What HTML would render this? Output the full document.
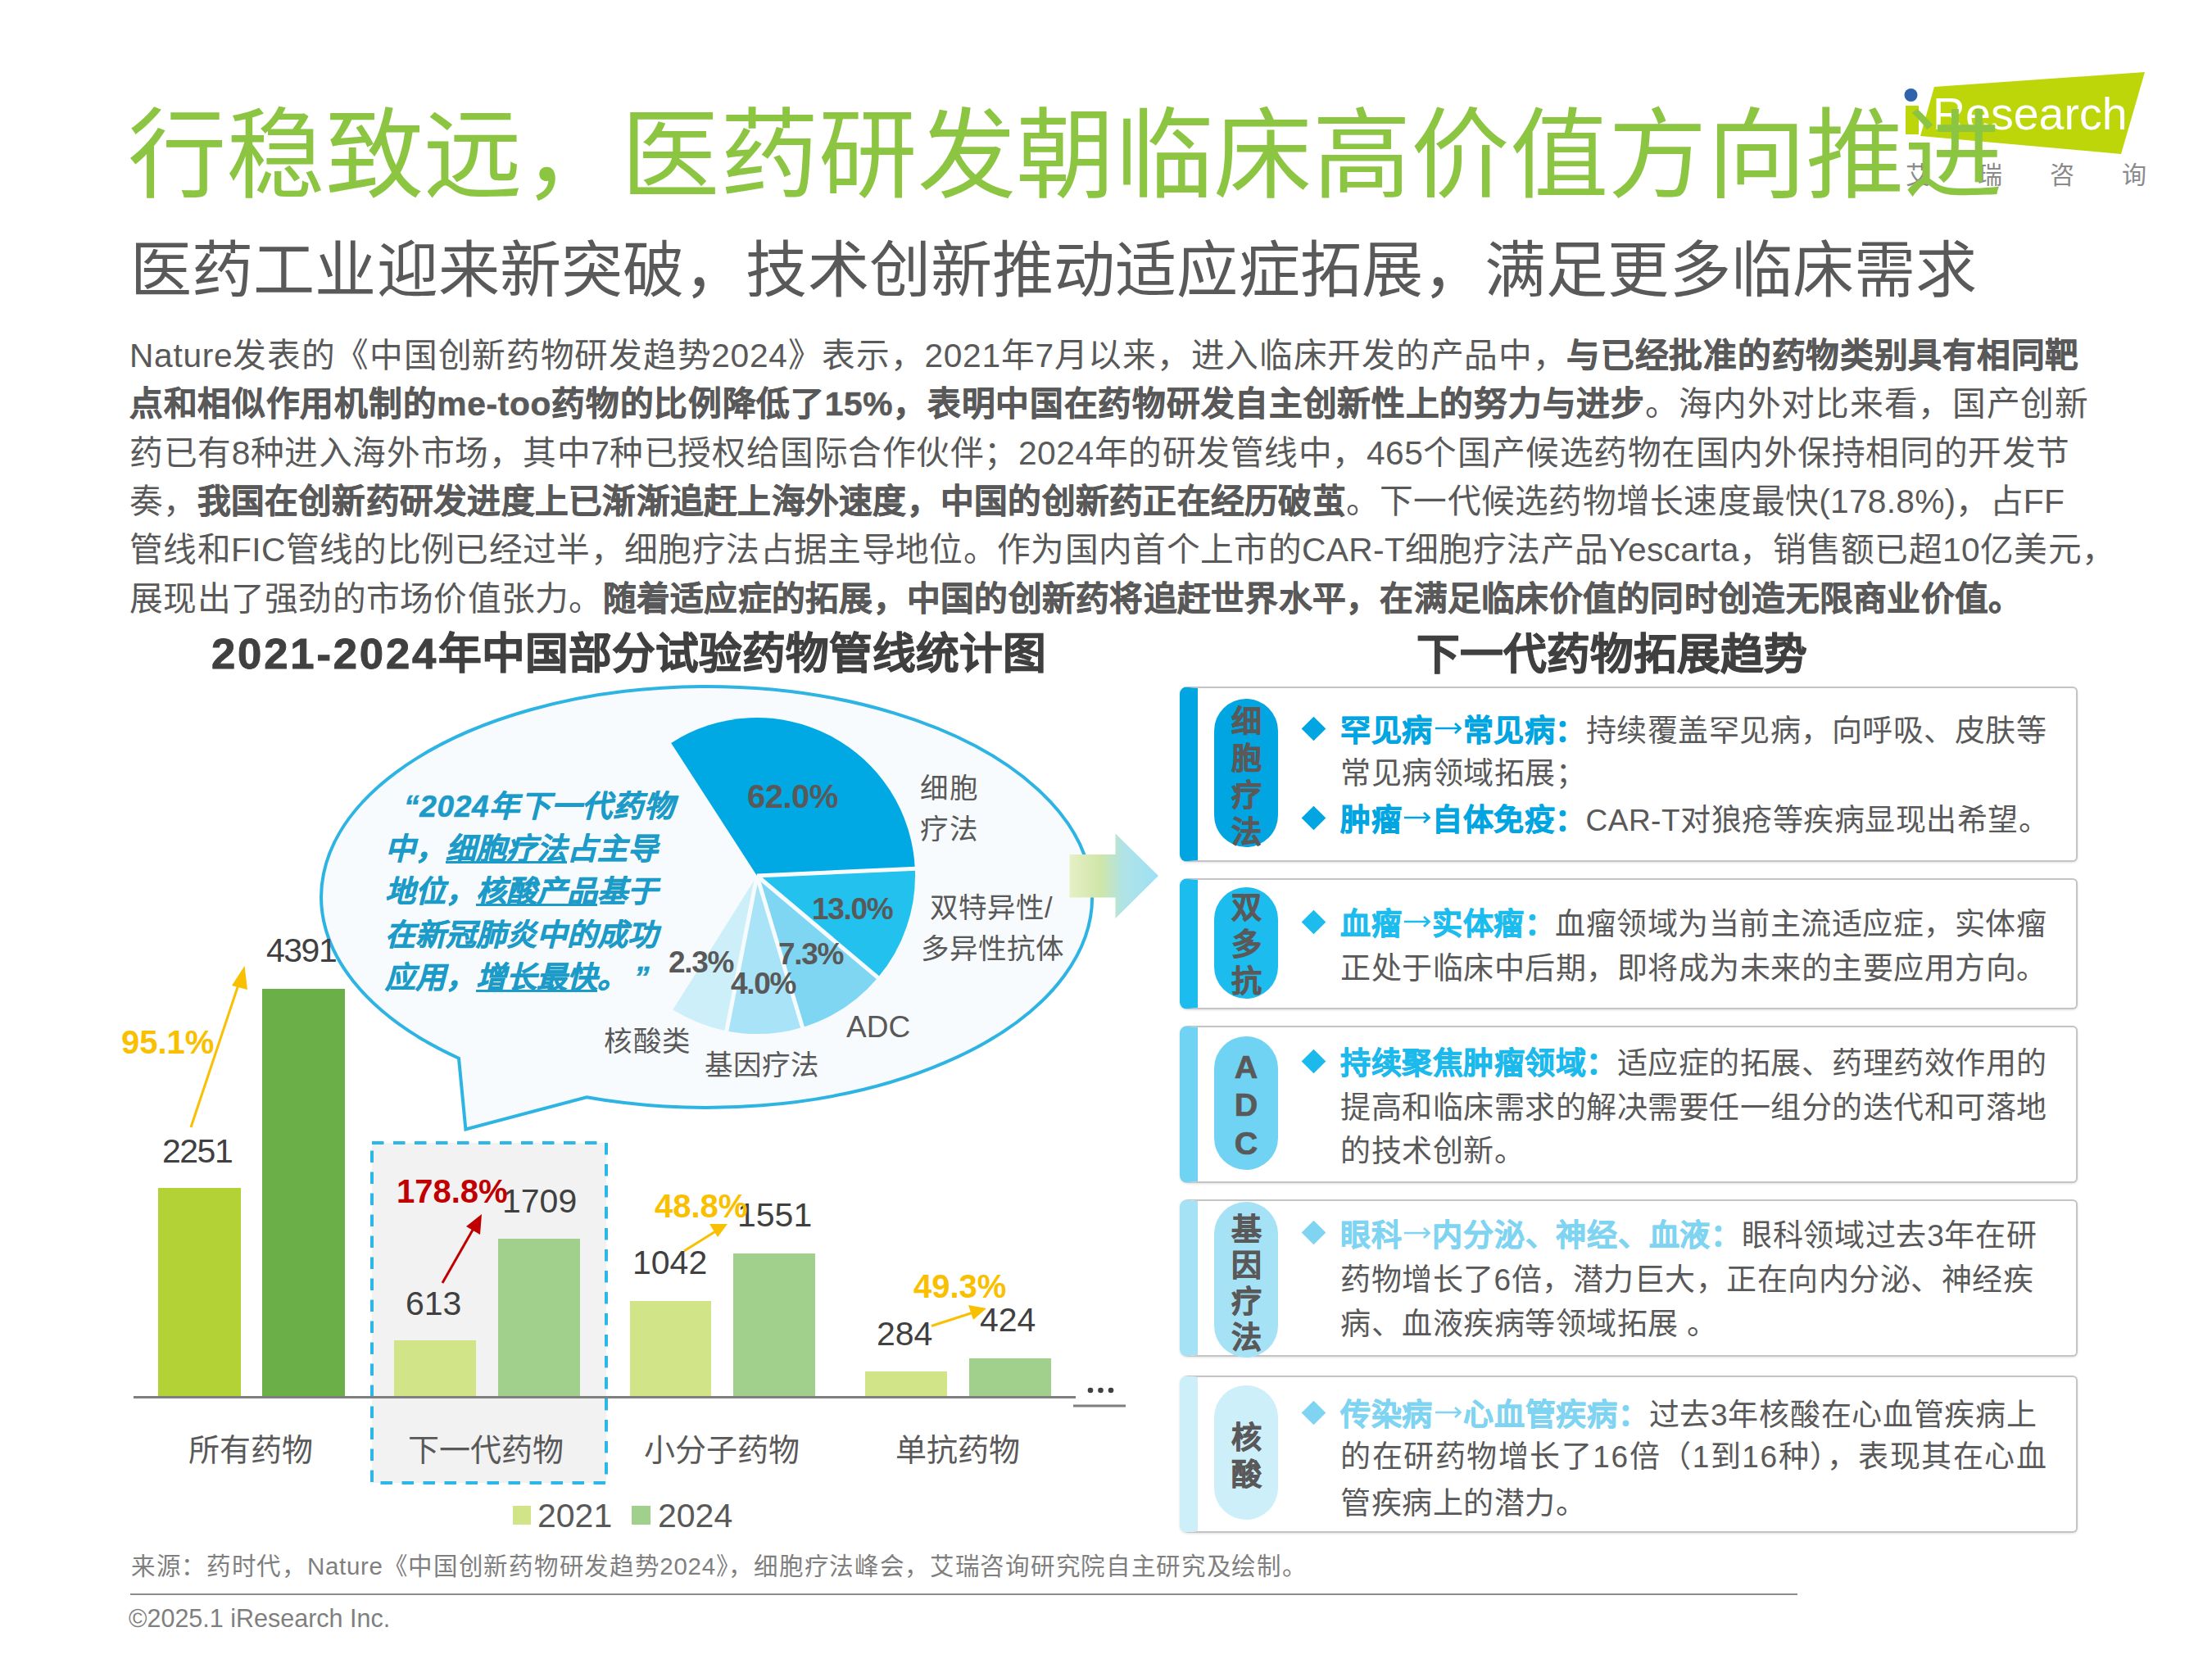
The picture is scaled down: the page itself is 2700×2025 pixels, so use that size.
<!DOCTYPE html>
<html lang="zh-CN"><head><meta charset="utf-8">
<style>
html,body{margin:0;padding:0;background:#fff;}
body{width:2700px;height:2025px;position:relative;overflow:hidden;font-family:"Liberation Sans",sans-serif;color:#595959;}
.a{position:absolute;white-space:nowrap;}
.b{font-weight:bold;}
svg{position:absolute;left:0;top:0;}
.box{position:absolute;left:1440px;width:1096px;box-sizing:border-box;border:2.5px solid #c4c4c4;border-left:22px solid var(--c);border-radius:9px 6px 6px 9px;background:#fff;box-shadow:0 1px 3px rgba(0,0,0,0.12);}
.pill{position:absolute;left:1482px;width:78px;border-radius:39px;}
.pt{position:absolute;left:1503px;width:36px;text-align:center;font-size:37px;font-weight:bold;color:#595959;}
.dm{position:absolute;left:1593px;width:21px;height:21px;transform:rotate(45deg);}
.tx{position:absolute;left:1636px;white-space:nowrap;font-size:37px;line-height:38px;letter-spacing:0.5px;color:#595959;}
.ar{display:inline-block;width:1em;height:0;position:relative;}
.ar svg{position:absolute;left:0;top:-26.3px;}
.tx b,.pt{-webkit-text-stroke:0.7px currentColor;}
#body b{-webkit-text-stroke:0.6px currentColor;}
.st{-webkit-text-stroke:0.9px currentColor;}

</style></head><body>

<!-- logo -->
<svg width="2700" height="2025" style="z-index:0">
  <polygon points="2361,106 2618,88 2589,188 2344,166" fill="#bcd60a"/>
  <circle cx="2332.5" cy="116" r="8" fill="#2f64ad"/>
  <rect x="2326" y="129" width="16" height="35" fill="#bcd60a"/>
</svg>
<div class="a" style="left:2359px;top:109px;font-size:55.5px;line-height:60px;color:#fff;z-index:1">Research</div>
<div class="a" style="left:2326px;top:196px;font-size:30px;line-height:36px;color:#8a8a8a;letter-spacing:58px;z-index:1">艾瑞咨询</div>

<!-- title -->
<div class="a" style="left:156px;top:130.5px;font-size:120.4px;line-height:120px;letter-spacing:0.47px;color:#8bc541;z-index:2">行稳致远，医药研发朝临床高价值方向推进</div>
<div class="a" style="left:159px;top:292.5px;font-size:75.1px;line-height:74px;letter-spacing:0.14px;color:#595959;z-index:2">医药工业迎来新突破，技术创新推动适应症拓展，满足更多临床需求</div>

<!-- body -->
<div id="body" style="position:absolute;left:158px;top:0;font-size:40.7px;line-height:40.7px;color:#595959;z-index:2">
<div class="a" style="left:0;top:414px;letter-spacing:0.706px">Nature发表的《中国创新药物研发趋势2024》表示，2021年7月以来，进入临床开发的产品中，<b>与已经批准的药物类别具有相同靶</b></div>
<div class="a" style="left:0;top:473.3px;letter-spacing:0.7px"><b>点和相似作用机制的me-too药物的比例降低了15%，表明中国在药物研发自主创新性上的努力与进步</b>。海内外对比来看，国产创新</div>
<div class="a" style="left:0;top:532.6px;letter-spacing:0.542px">药已有8种进入海外市场，其中7种已授权给国际合作伙伴；2024年的研发管线中，465个国产候选药物在国内外保持相同的开发节</div>
<div class="a" style="left:0;top:591.9px;letter-spacing:0.246px">奏，<b>我国在创新药研发进度上已渐渐追赶上海外速度，中国的创新药正在经历破茧</b>。下一代候选药物增长速度最快(178.8%)，占FF</div>
<div class="a" style="left:0;top:651.2px;letter-spacing:0.348px">管线和FIC管线的比例已经过半，细胞疗法占据主导地位。作为国内首个上市的CAR-T细胞疗法产品Yescarta，销售额已超10亿美元，</div>
<div class="a" style="left:0;top:710.5px;letter-spacing:0.255px">展现出了强劲的市场价值张力。<b>随着适应症的拓展，中国的创新药将追赶世界水平，在满足临床价值的同时创造无限商业价值。</b></div>
</div>

<!-- section titles -->
<div class="a b st" style="left:258px;top:772px;font-size:52.7px;line-height:52.7px;color:#404040"><span style="letter-spacing:2.8px">2021-2024</span>年中国部分试验药物管线统计图</div>
<div class="a b st" style="left:1729px;top:772.5px;font-size:52.7px;line-height:52px;color:#404040">下一代药物拓展趋势</div>

<!-- chart shapes -->
<svg width="2700" height="2025" style="z-index:1">
  <!-- dashed box -->
  <rect x="454" y="1395" width="286" height="415" fill="#f2f2f2" stroke="#2db7e9" stroke-width="4" stroke-dasharray="14.5 11.5"/>
  <!-- bars -->
  <rect x="193" y="1450" width="101" height="256" fill="#b2d235"/>
  <rect x="320" y="1207" width="101" height="499" fill="#6aaf47"/>
  <rect x="481" y="1636" width="100" height="70" fill="#d1e487"/>
  <rect x="608" y="1512" width="100" height="194" fill="#a0d08c"/>
  <rect x="769" y="1588" width="99" height="118" fill="#d1e487"/>
  <rect x="895" y="1530" width="100" height="176" fill="#a0d08c"/>
  <rect x="1056" y="1674" width="100" height="32" fill="#d1e487"/>
  <rect x="1183" y="1658" width="100" height="48" fill="#a0d08c"/>
  <!-- axis -->
  <line x1="163" y1="1705.5" x2="1313" y2="1705.5" stroke="#7f7f7f" stroke-width="3"/>
  <line x1="1310" y1="1716" x2="1374" y2="1716" stroke="#7f7f7f" stroke-width="3"/>
  <circle cx="1331" cy="1697" r="3.3" fill="#404040"/><circle cx="1343.5" cy="1697" r="3.3" fill="#404040"/><circle cx="1356" cy="1697" r="3.3" fill="#404040"/>
  <!-- legend -->
  <rect x="626" y="1838" width="22" height="23" fill="#d1e487"/>
  <rect x="771" y="1838" width="23" height="23" fill="#a0d08c"/>
  <!-- growth arrows -->
  <line x1="233" y1="1376" x2="293" y2="1196" stroke="#f8c000" stroke-width="3"/>
  <polygon points="298.5,1179 283,1203 302,1208" fill="#f8c000"/>
  <line x1="540" y1="1566" x2="580" y2="1496" stroke="#c00000" stroke-width="3"/>
  <polygon points="588,1482 569,1497 586,1507" fill="#c00000"/>
  <line x1="835" y1="1527" x2="875" y2="1502" stroke="#f8c000" stroke-width="3"/>
  <polygon points="888,1494 866,1494 876,1510" fill="#f8c000"/>
  <line x1="1137" y1="1618.5" x2="1188" y2="1602" stroke="#f8c000" stroke-width="3"/>
  <polygon points="1204,1597 1182,1593 1188,1611" fill="#f8c000"/>
  <!-- bubble -->
  <path d="M560 1291.8 L568.4 1378.5 L716 1339.2 A470.5 257 0 1 0 560 1291.8 Z" fill="#f7fbfd" stroke="#2eb4e2" stroke-width="4" stroke-linejoin="miter"/>
  <!-- pie -->
<path d="M924 1069 L819.2 907.0 A193 193 0 0 1 1116.8 1060.2 Z" fill="#00a9e3"/>
<path d="M924 1069 L1116.8 1060.2 A193 193 0 0 1 1071.6 1193.3 Z" fill="#22c1ee"/>
<path d="M924 1069 L1071.6 1193.3 A193 193 0 0 1 979.5 1253.9 Z" fill="#7fd6f3"/>
<path d="M924 1069 L979.5 1253.9 A193 193 0 0 1 886.8 1258.4 Z" fill="#a8e3f7"/>
<path d="M924 1069 L886.8 1258.4 A193 193 0 0 1 821.4 1232.5 Z" fill="#cdeffa"/>
<line x1="924" y1="1069" x2="1123.8" y2="1059.9" stroke="#f7fbfd" stroke-width="5"/>
<line x1="924" y1="1069" x2="1077.0" y2="1197.8" stroke="#f7fbfd" stroke-width="5"/>
<line x1="924" y1="1069" x2="981.5" y2="1260.6" stroke="#f7fbfd" stroke-width="5"/>
<line x1="924" y1="1069" x2="885.5" y2="1265.3" stroke="#f7fbfd" stroke-width="5"/>

  <!-- right arrow -->
  <defs><linearGradient id="ag" x1="0" x2="1" y1="0" y2="0">
    <stop offset="0" stop-color="#e6f0c6"/><stop offset="0.35" stop-color="#cfe6a8"/><stop offset="0.6" stop-color="#b0e3e6"/><stop offset="1" stop-color="#9ee0f6"/></linearGradient></defs>
  <polygon points="1305.5,1043 1361.5,1043 1361.5,1017.5 1414,1069 1361.5,1121 1361.5,1095.5 1305.5,1095.5" fill="url(#ag)"/>
</svg>

<!-- chart labels -->
<div style="position:absolute;left:0;top:0;z-index:3;color:#404040">
  <div class="a" style="left:198px;top:1384.5px;font-size:41px;line-height:41px;letter-spacing:-1.5px">2251</div>
  <div class="a" style="left:325px;top:1139.5px;font-size:41px;line-height:41px;letter-spacing:-1.5px">4391</div>
  <div class="a" style="left:495px;top:1570.5px;font-size:41px;line-height:41px">613</div>
  <div class="a" style="left:613px;top:1445.5px;font-size:41px;line-height:41px">1709</div>
  <div class="a" style="left:772px;top:1520.5px;font-size:41px;line-height:41px">1042</div>
  <div class="a" style="left:900px;top:1462.5px;font-size:41px;line-height:41px">1551</div>
  <div class="a" style="left:1070px;top:1607.5px;font-size:41px;line-height:41px">284</div>
  <div class="a" style="left:1196px;top:1590.5px;font-size:41px;line-height:41px">424</div>
  <div class="a b" style="left:148px;top:1251.5px;font-size:40px;line-height:40px;color:#f8c000">95.1%</div>
  <div class="a b" style="left:484px;top:1433.5px;font-size:40px;line-height:40px;color:#c00000">178.8%</div>
  <div class="a b" style="left:799px;top:1452px;font-size:40px;line-height:40px;color:#f8c000">48.8%</div>
  <div class="a b" style="left:1115px;top:1549.5px;font-size:40px;line-height:40px;color:#f8c000">49.3%</div>
  <div class="a" style="left:230px;top:1750.5px;font-size:38px;line-height:38px;color:#595959">所有药物</div>
  <div class="a" style="left:498px;top:1750.5px;font-size:38px;line-height:38px;color:#595959">下一代药物</div>
  <div class="a" style="left:786px;top:1750.5px;font-size:38px;line-height:38px;color:#595959">小分子药物</div>
  <div class="a" style="left:1093px;top:1750.5px;font-size:38px;line-height:38px;color:#595959">单抗药物</div>
  <div class="a" style="left:656px;top:1830px;font-size:41px;line-height:41px;color:#595959">2021</div>
  <div class="a" style="left:803px;top:1830px;font-size:41px;line-height:41px;color:#595959">2024</div>
  <!-- pie labels -->
  <div class="a b" style="left:912px;top:952.4px;font-size:40px;line-height:40px;color:#595959;letter-spacing:-0.5px">62.0%</div>
  <div class="a b" style="left:991px;top:1091px;font-size:37px;line-height:37px;color:#595959;letter-spacing:-1.3px">13.0%</div>
  <div class="a b" style="left:950px;top:1146px;font-size:37px;line-height:37px;color:#595959;letter-spacing:-1.3px">7.3%</div>
  <div class="a b" style="left:892px;top:1182px;font-size:37px;line-height:37px;color:#595959;letter-spacing:-1.3px">4.0%</div>
  <div class="a b" style="left:816px;top:1155.5px;font-size:37px;line-height:37px;color:#595959;letter-spacing:-1.3px">2.3%</div>
  <div class="a" style="left:1123px;top:937px;font-size:34.5px;line-height:50px;color:#595959;letter-spacing:1.5px">细胞<br>疗法</div>
  <div class="a" style="left:1135px;top:1083px;font-size:34.5px;line-height:50px;color:#595959;letter-spacing:1px">双特异性/</div>
  <div class="a" style="left:1124px;top:1141px;font-size:34.5px;line-height:34px;color:#595959;letter-spacing:1px">多异性抗体</div>
  <div class="a" style="left:1033px;top:1234.5px;font-size:37px;line-height:37px;color:#595959">ADC</div>
  <div class="a" style="left:737px;top:1254px;font-size:34.5px;line-height:34px;color:#595959;letter-spacing:1.5px">核酸类</div>
  <div class="a" style="left:860px;top:1282.5px;font-size:34.5px;line-height:34px;color:#595959;letter-spacing:1px">基因疗法</div>
  <!-- quote -->
  <div class="a b" style="left:470px;top:959px;font-size:37px;line-height:52.2px;color:#1c9bc8;font-style:italic;-webkit-text-stroke:0.6px #1c9bc8">
    <div style="padding-left:23px;letter-spacing:0.7px">“2024年下一代药物</div>
    <div>中，<u>细胞疗法</u>占主导</div>
    <div>地位，<u>核酸产品</u>基于</div>
    <div>在新冠肺炎中的成功</div>
    <div>应用，<u>增长最快</u>。<span style="margin-left:26px">”</span></div>
  </div>
</div>

<!-- right panel -->
<div id="rp" style="position:absolute;left:0;top:0;z-index:3">
  <div class="box" style="top:838px;height:214px;--c:#00a5e1;--p:#00a5e1;--h:#00a5e1"></div>
  <div class="box" style="top:1072px;height:160px;--c:#1cbcee;--p:#1cbcee;--h:#1cbcee"></div>
  <div class="box" style="top:1252px;height:192px;--c:#70d3f3;--p:#70d3f3;--h:#1cb9ec"></div>
  <div class="box" style="top:1464px;height:192px;--c:#a6e2f6;--p:#a6e2f6;--h:#7fd4f2"></div>
  <div class="box" style="top:1678.5px;height:192px;--c:#cdeffa;--p:#cdeffa;--h:#7fd4f2"></div>
  <!-- pills -->
  <div class="pill" style="top:853px;height:181px;background:#00a5e1"></div>
  <div class="pill" style="top:1083px;height:136px;background:#1cbcee"></div>
  <div class="pill" style="top:1265px;height:163px;background:#70d3f3"></div>
  <div class="pill" style="top:1467px;height:190px;background:#a6e2f6"></div>
  <div class="pill" style="top:1691px;height:164px;background:#cdeffa"></div>
  <div class="pt" style="top:859px;line-height:45px">细<br>胞<br>疗<br>法</div>
  <div class="pt" style="top:1086px;line-height:45px">双<br>多<br>抗</div>
  <div class="pt" style="top:1279px;line-height:46.4px;font-size:39.5px">A<br>D<br>C</div>
  <div class="pt" style="top:1479.5px;line-height:44.2px">基<br>因<br>疗<br>法</div>
  <div class="pt" style="top:1733px;line-height:45px">核<br>酸</div>
  <!-- bullets -->
  <div class="dm" style="top:879px;background:#00a5e1"></div>
  <div class="dm" style="top:988px;background:#00a5e1"></div>
  <div class="dm" style="top:1115px;background:#1cbcee"></div>
  <div class="dm" style="top:1285px;background:#1cb9ec"></div>
  <div class="dm" style="top:1494px;background:#7fd4f2"></div>
  <div class="dm" style="top:1714px;background:#7fd4f2"></div>
  <div class="tx" style="top:874px"><b style="color:#00a5e1">罕见病<span class="ar"><svg width="37" height="20" viewBox="0 0 37 20"><path d="M3 10H33M27 4L33.5 10L27 16" fill="none" stroke="currentColor" stroke-width="2.7"/></svg></span>常见病：</b>持续覆盖罕见病，向呼吸、皮肤等</div>
  <div class="tx" style="top:926px">常见病领域拓展；</div>
  <div class="tx" style="top:983px"><b style="color:#00a5e1">肿瘤<span class="ar"><svg width="37" height="20" viewBox="0 0 37 20"><path d="M3 10H33M27 4L33.5 10L27 16" fill="none" stroke="currentColor" stroke-width="2.7"/></svg></span>自体免疫：</b>CAR-T对狼疮等疾病显现出希望。</div>
  <div class="tx" style="top:1110px"><b style="color:#1cbcee">血瘤<span class="ar"><svg width="37" height="20" viewBox="0 0 37 20"><path d="M3 10H33M27 4L33.5 10L27 16" fill="none" stroke="currentColor" stroke-width="2.7"/></svg></span>实体瘤：</b>血瘤领域为当前主流适应症，实体瘤</div>
  <div class="tx" style="top:1164px">正处于临床中后期，即将成为未来的主要应用方向。</div>
  <div class="tx" style="top:1280px"><b style="color:#1cb9ec">持续聚焦肿瘤领域：</b>适应症的拓展、药理药效作用的</div>
  <div class="tx" style="top:1334px">提高和临床需求的解决需要任一组分的迭代和可落地</div>
  <div class="tx" style="top:1387px">的技术创新。</div>
  <div class="tx" style="top:1490px;letter-spacing:0.73px"><b style="color:#7fd4f2">眼科<span class="ar"><svg width="37" height="20" viewBox="0 0 37 20"><path d="M3 10H33M27 4L33.5 10L27 16" fill="none" stroke="currentColor" stroke-width="2.7"/></svg></span>内分泌、神经、血液：</b>眼科领域过去3年在研</div>
  <div class="tx" style="top:1544px">药物增长了6倍，潜力巨大，正在向内分泌、神经疾</div>
  <div class="tx" style="top:1598px">病、血液疾病等领域拓展 。</div>
  <div class="tx" style="top:1709px;letter-spacing:0.73px"><b style="color:#7fd4f2">传染病<span class="ar"><svg width="37" height="20" viewBox="0 0 37 20"><path d="M3 10H33M27 4L33.5 10L27 16" fill="none" stroke="currentColor" stroke-width="2.7"/></svg></span>心血管疾病：</b>过去3年核酸在心血管疾病上</div>
  <div class="tx" style="top:1760px;letter-spacing:1.54px">的在研药物增长了16倍（1到16种），表现其在心血</div>
  <div class="tx" style="top:1817px">管疾病上的潜力。</div>
</div>

<!-- footer -->
<div class="a" style="left:160px;top:1897px;font-size:29.5px;line-height:29.5px;letter-spacing:0.7px;color:#7f7f7f">来源：药时代，Nature《中国创新药物研发趋势2024》，细胞疗法峰会，艾瑞咨询研究院自主研究及绘制。</div>
<div style="position:absolute;left:159px;top:1945px;width:2035px;height:2px;background:#8c8c8c"></div>
<div class="a" style="left:157px;top:1958px;font-size:30.5px;line-height:34px;color:#7f7f7f">©2025.1 iResearch Inc.</div>

</body></html>
